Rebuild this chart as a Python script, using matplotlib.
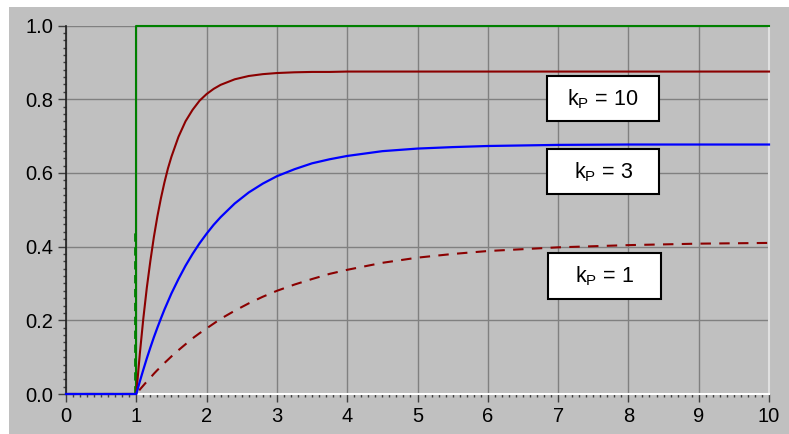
import matplotlib
matplotlib.use("Agg")
import matplotlib.pyplot as plt
from matplotlib.patches import Rectangle
from matplotlib.ticker import MultipleLocator, FormatStrFormatter

plt.rcParams['font.family'] = ['Liberation Sans', 'DejaVu Sans']
plt.rcParams['mathtext.fontset'] = 'custom'
plt.rcParams['mathtext.rm'] = 'Liberation Sans'

# --- data ---
t_step = [0.0, 1.0, 1.0, 10.0]
y_step = [0.0, 0.0, 1.0, 1.0]

t_resp = [0.0, 1.0, 1.05, 1.1, 1.15, 1.2, 1.25, 1.3, 1.35, 1.4, 1.45, 1.5,
          1.6, 1.7, 1.8, 1.9, 2.0, 2.1, 2.2, 2.4, 2.6, 2.8, 3.0, 3.25, 3.5,
          3.75, 4.0, 4.5, 5.0, 5.5, 6.0, 7.0, 8.0, 9.0, 10.0]
y_kp10 = [0.0, 0.0, 0.109, 0.205, 0.289, 0.361, 0.426, 0.482, 0.531, 0.574,
          0.612, 0.644, 0.698, 0.740, 0.771, 0.796, 0.814, 0.828, 0.839,
          0.854, 0.863, 0.868, 0.871, 0.873, 0.874, 0.874, 0.875, 0.875,
          0.875, 0.875, 0.875, 0.875, 0.875, 0.875, 0.875]
y_kp3 = [0.0, 0.0, 0.034, 0.066, 0.097, 0.126, 0.154, 0.180, 0.205, 0.229,
         0.251, 0.273, 0.312, 0.348, 0.380, 0.409, 0.435, 0.459, 0.480,
         0.517, 0.547, 0.571, 0.591, 0.610, 0.626, 0.637, 0.646, 0.659,
         0.666, 0.670, 0.673, 0.676, 0.677, 0.677, 0.677]
y_kp1 = [0.0, 0.0, 0.012, 0.023, 0.034, 0.044, 0.055, 0.065, 0.074, 0.084,
         0.093, 0.102, 0.119, 0.135, 0.151, 0.165, 0.178, 0.191, 0.204,
         0.226, 0.246, 0.264, 0.280, 0.297, 0.312, 0.326, 0.337, 0.356,
         0.370, 0.380, 0.388, 0.398, 0.404, 0.408, 0.410]
t_spike = [0.985, 0.985]
y_spike = [0.0, 0.445]

labels = ['k$_\\mathregular{P}$ = 10', 'k$_\\mathregular{P}$ = 3', 'k$_\\mathregular{P}$ = 1']
x_ticks = list(range(0, 11))
y_ticks = [0.0, 0.2, 0.4, 0.6, 0.8, 1.0]

GRAY = '#c0c0c0'
fig = plt.figure(figsize=(7.89, 4.34), dpi=100, facecolor=GRAY)
# white strips at top and left edge
fig.patches.append(Rectangle((0, 1 - 7 / 434), 1, 7 / 434, transform=fig.transFigure,
                             facecolor='white', edgecolor='none', zorder=-10))
fig.patches.append(Rectangle((0, 0), 9 / 789, 1, transform=fig.transFigure,
                             facecolor='white', edgecolor='none', zorder=-10))

ax = fig.add_axes([66 / 789, 1 - 394 / 434, (769 - 66) / 789, (394 - 25.5) / 434])
ax.set_facecolor(GRAY)
ax.set_xlim(0, 10)
ax.set_ylim(0, 1.0)

ax.plot(t_spike, y_spike, color='#008000', lw=2, ls=(0, (3, 2)), zorder=3)
ax.plot(t_step, y_step, color='#008000', lw=1.5, zorder=3, clip_on=False)
ax.plot(t_resp, y_kp10, color='#8b0000', lw=1.5, zorder=4, clip_on=False)
ax.plot(t_resp, y_kp1, color='#8b0000', lw=1.5, ls=(0, (5, 4)), zorder=4, clip_on=False)
ax.plot(t_resp, y_kp3, color='#0000ff', lw=1.6, zorder=5, clip_on=False)

ax.set_xticks(x_ticks)
ax.set_yticks(y_ticks)
ax.yaxis.set_major_formatter(FormatStrFormatter('%.1f'))
ax.xaxis.set_minor_locator(MultipleLocator(0.1))
ax.yaxis.set_minor_locator(MultipleLocator(0.02))
ax.grid(True, which='major', color='#808080', lw=1)
ax.set_axisbelow(True)

ax.tick_params(axis='both', which='major', labelsize=14.5, direction='out',
               length=6, width=1, color='#404040', pad=3)
ax.tick_params(axis='both', which='minor', direction='out', length=2.5,
               width=1, color='#404040')

ax.spines['top'].set_visible(False)
ax.spines['left'].set_color('#202020')
ax.spines['left'].set_linewidth(1.2)
ax.spines['bottom'].set_color('white')
ax.spines['bottom'].set_linewidth(1.5)
ax.spines['right'].set_color('#e0e0e0')
ax.spines['right'].set_linewidth(1.5)

boxes = [(6.84, 0.740, 1.60, 0.122), (6.84, 0.542, 1.60, 0.122), (6.86, 0.257, 1.61, 0.125)]
for (bx, by, bw, bh), lab in zip(boxes, labels):
    ax.add_patch(Rectangle((bx, by), bw, bh, facecolor='white', edgecolor='black',
                           lw=1.5, zorder=6))
    ax.text(bx + bw / 2, by + bh / 2, lab, ha='center', va='center',
            fontsize=15.5, zorder=7)

fig.savefig('out.png', dpi=100, facecolor=GRAY)
